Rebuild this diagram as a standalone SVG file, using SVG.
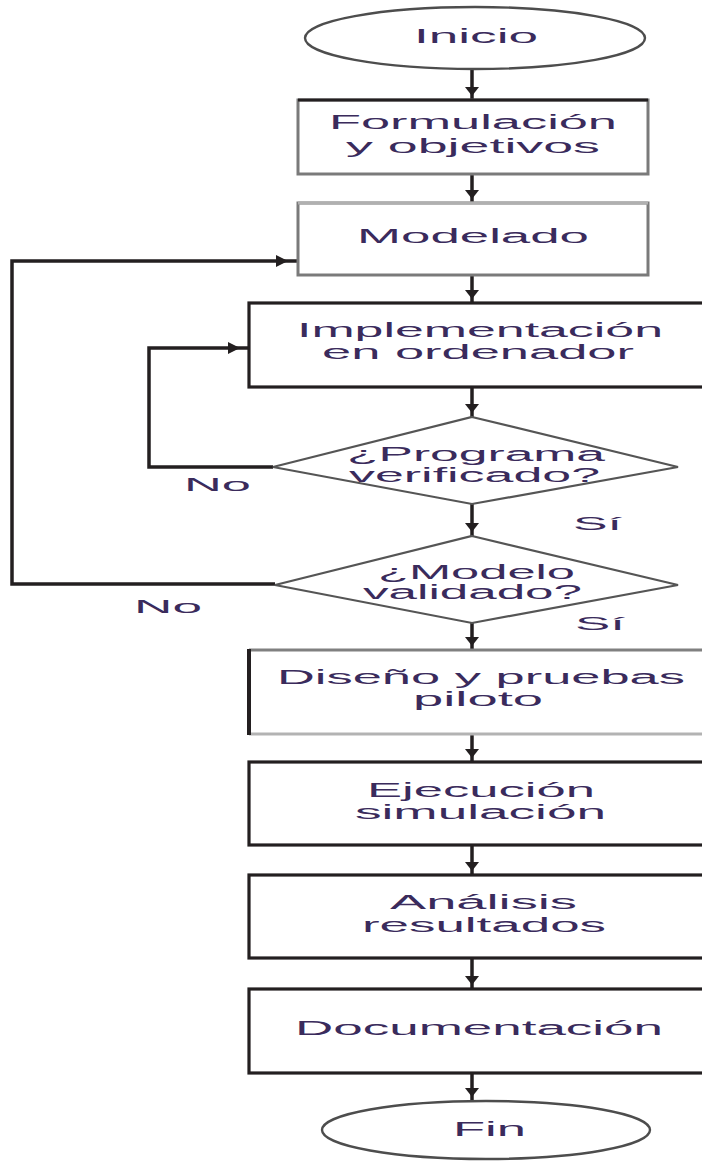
<svg xmlns="http://www.w3.org/2000/svg" xmlns:xlink="http://www.w3.org/1999/xlink" width="702" height="1162" viewBox="0 0 702 1162">
  <style>
    .t { font-family: "Liberation Sans", Arial, sans-serif; font-size: 20px; fill: #3a2b5c; }
    .lbl { font-family: "Liberation Sans", Arial, sans-serif; font-size: 19px; fill: #3a2b5c; }
    .term { fill: #ffffff; stroke: #4d4d4d; stroke-width: 2.4; }
    .boxg { fill: #ffffff; stroke: #7a7a7a; stroke-width: 3; }
    .box { fill: #ffffff; stroke: #231f20; stroke-width: 3.2; }
    .dec { fill: #ffffff; stroke: #555555; stroke-width: 2.2; }
    .conn { fill: none; stroke: #231f20; stroke-width: 3.5; }
    .head { fill: #231f20; }
  </style>
  <defs>
    <!-- downward arrowhead, tip at origin -->
    <polygon id="ahd" class="head" points="-7,-9 7,-9 0,0"/>
    <!-- rightward arrowhead, tip at origin -->
    <polygon id="ahr" class="head" points="-12,-6 -12,6 0,0"/>
  </defs>
  <rect width="702" height="1162" fill="#ffffff"/>

  <!-- connectors -->
  <g id="connectors">
    <path class="conn" d="M472,68 V100"/>
    <path class="conn" d="M472,174 V203"/>
    <path class="conn" d="M472,275 V303"/>
    <path class="conn" d="M472,387 V417"/>
    <path class="conn" d="M472,504 V536"/>
    <path class="conn" d="M472,623 V650"/>
    <path class="conn" d="M472,734 V762"/>
    <path class="conn" d="M472,845 V875"/>
    <path class="conn" d="M472,958 V989"/>
    <path class="conn" d="M472,1073 V1101"/>
    <path class="conn" d="M273,467 H149 V348 H249"/>
    <path class="conn" d="M275,584 H12 V261 H298"/>
    <use xlink:href="#ahd" x="472" y="96"/>
    <use xlink:href="#ahd" x="472" y="199"/>
    <use xlink:href="#ahd" x="472" y="299"/>
    <use xlink:href="#ahd" x="472" y="413"/>
    <use xlink:href="#ahd" x="472" y="532"/>
    <use xlink:href="#ahd" x="472" y="646"/>
    <use xlink:href="#ahd" x="472" y="758"/>
    <use xlink:href="#ahd" x="472" y="871"/>
    <use xlink:href="#ahd" x="472" y="985"/>
    <use xlink:href="#ahd" x="472" y="1097"/>
    <use xlink:href="#ahr" x="240" y="348"/>
    <use xlink:href="#ahr" x="288" y="261"/>
    <text class="lbl" x="184" y="491" textLength="67" lengthAdjust="spacingAndGlyphs">No</text>
    <text class="lbl" x="573" y="530" textLength="49" lengthAdjust="spacingAndGlyphs">Sí</text>
    <text class="lbl" x="134" y="613" textLength="68" lengthAdjust="spacingAndGlyphs">No</text>
    <text class="lbl" x="575" y="630" textLength="50" lengthAdjust="spacingAndGlyphs">Sí</text>
  </g>

  <g id="inicio">
    <ellipse class="term" cx="475" cy="38" rx="170" ry="31"/>
    <text class="t" x="414" y="43" textLength="124" lengthAdjust="spacingAndGlyphs">Inicio</text>
  </g>

  <g id="formulacion">
    <rect class="boxg" x="298" y="100" width="350" height="74"/>
    <line x1="298" y1="100" x2="648" y2="100" stroke="#231f20" stroke-width="3"/>
    <text class="t" x="329" y="129" textLength="288" lengthAdjust="spacingAndGlyphs">Formulación</text>
    <text class="t" x="346" y="153" textLength="254" lengthAdjust="spacingAndGlyphs">y objetivos</text>
  </g>

  <g id="modelado">
    <rect class="boxg" x="298" y="203" width="350" height="72"/>
    <line x1="298" y1="203" x2="648" y2="203" stroke="#b0b0b0" stroke-width="3"/>
    <text class="t" x="357" y="243" textLength="232" lengthAdjust="spacingAndGlyphs">Modelado</text>
  </g>

  <g id="implementacion">
    <rect class="box" x="249" y="303" width="470" height="84"/>
    <text class="t" x="297" y="337" textLength="366" lengthAdjust="spacingAndGlyphs">Implementación</text>
    <text class="t" x="322" y="359" textLength="312" lengthAdjust="spacingAndGlyphs">en ordenador</text>
  </g>

  <g id="programa-verificado">
    <polygon class="dec" points="472,417 678,467 472,504 273,467"/>
    <text class="t" x="347" y="461" textLength="258" lengthAdjust="spacingAndGlyphs">¿Programa</text>
    <text class="t" x="349" y="482" textLength="251" lengthAdjust="spacingAndGlyphs">verificado?</text>
  </g>

  <g id="modelo-validado">
    <polygon class="dec" points="472,536 678,585 472,623 275,585"/>
    <text class="t" x="378" y="579" textLength="197" lengthAdjust="spacingAndGlyphs">¿Modelo</text>
    <text class="t" x="363" y="599" textLength="219" lengthAdjust="spacingAndGlyphs">validado?</text>
  </g>

  <g id="diseno">
    <rect x="249" y="650" width="470" height="84" fill="#ffffff"/>
    <line x1="249" y1="650" x2="710" y2="650" stroke="#808080" stroke-width="3"/>
    <line x1="249" y1="734" x2="710" y2="734" stroke="#b3b3b3" stroke-width="3"/>
    <line x1="249" y1="649" x2="249" y2="735" stroke="#231f20" stroke-width="4"/>
    <text class="t" x="277" y="684" textLength="408" lengthAdjust="spacingAndGlyphs">Diseño y pruebas</text>
    <text class="t" x="413" y="706" textLength="130" lengthAdjust="spacingAndGlyphs">piloto</text>
  </g>

  <g id="ejecucion">
    <rect class="box" x="249" y="762" width="470" height="83"/>
    <text class="t" x="367" y="797" textLength="228" lengthAdjust="spacingAndGlyphs">Ejecución</text>
    <text class="t" x="355" y="819" textLength="251" lengthAdjust="spacingAndGlyphs">simulación</text>
  </g>

  <g id="analisis">
    <rect class="box" x="249" y="875" width="470" height="83"/>
    <text class="t" x="390" y="909" textLength="187" lengthAdjust="spacingAndGlyphs">Análisis</text>
    <text class="t" x="362" y="932" textLength="244" lengthAdjust="spacingAndGlyphs">resultados</text>
  </g>

  <g id="documentacion">
    <rect class="box" x="249" y="989" width="470" height="84"/>
    <text class="t" x="295" y="1035" textLength="368" lengthAdjust="spacingAndGlyphs">Documentación</text>
  </g>

  <g id="fin">
    <ellipse class="term" cx="486" cy="1130" rx="164" ry="29"/>
    <text class="t" x="453" y="1136" textLength="73" lengthAdjust="spacingAndGlyphs">Fin</text>
  </g>
</svg>
